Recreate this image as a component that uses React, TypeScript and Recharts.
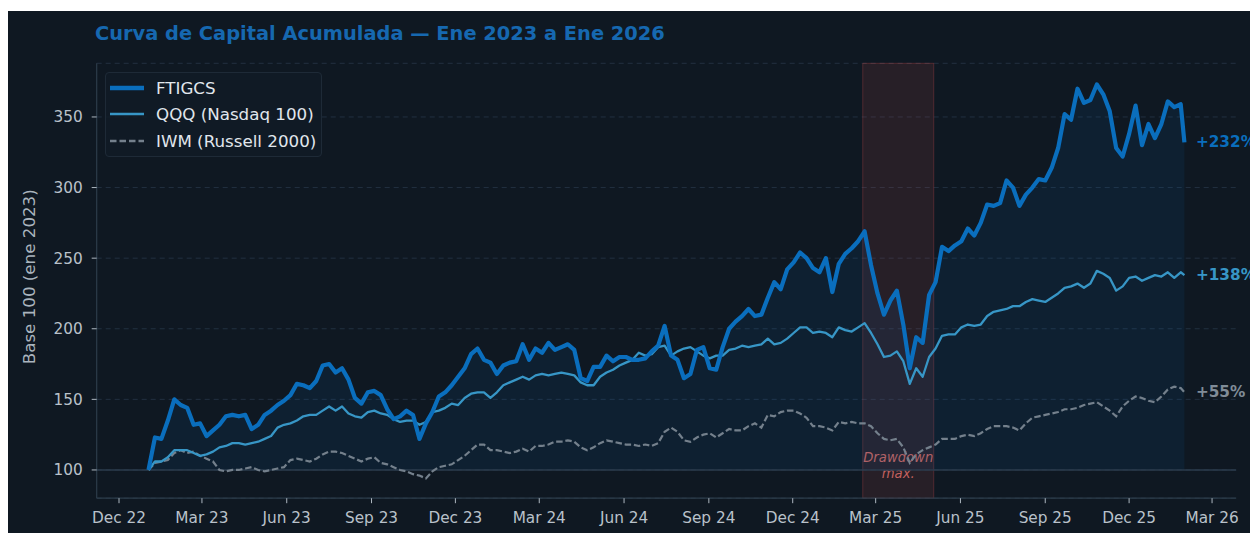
import React from 'react';
import {
  ComposedChart,
  Line,
  Area,
  XAxis,
  YAxis,
  CartesianGrid,
  ReferenceArea,
  ReferenceLine,
  ReferenceDot,
} from 'recharts';

// ---------- data ----------
const DAY = 86400000;
const firstWeek = '2023-01-02';
const weeklyCount = 161;
const lastDate = '2026-01-30';

const dates: number[] = [];
for (let i = 0; i < weeklyCount; i++) dates.push(Date.parse(firstWeek) + i * 7 * DAY);
dates.push(Date.parse(lastDate));

const ftigcs: number[] = [
  100, 123, 122, 135, 150, 146, 144, 132, 133, 124,
  128, 132, 138, 139, 138, 139, 129, 132, 139, 142,
  146, 149, 153, 161, 160, 158, 163, 174, 175, 169,
  172, 164, 151, 147, 155, 156, 153, 143, 136, 138,
  142, 139, 122, 133, 141, 152, 155, 160, 166,
  172, 182, 186, 178, 176, 168, 174, 176, 177, 189, 178,
  186, 183, 190, 185, 187, 189, 185, 165, 163, 173,
  173, 181, 177, 180, 180, 178, 178, 179, 184, 188,
  202, 181, 178, 165, 168, 185, 187, 172, 171, 187,
  200, 205, 209, 214, 209, 210, 222,
  233, 228, 242, 247, 254, 250, 243, 240, 250, 226,
  246, 253, 257, 262, 269, 245, 225, 210, 220, 227,
  203, 172, 194, 190, 224, 233, 258, 255, 259, 262, 271, 266, 275,
  288, 287, 289, 305, 300, 287, 295, 300, 306, 305, 314, 328,
  352, 348, 370, 360, 362, 373, 366, 354, 328, 322,
  338, 358, 330, 345, 335, 345, 361, 357, 359, 332,
];

const qqq: number[] = [
  100, 106, 106, 109, 114, 114, 114, 112, 110, 111,
  113, 116, 117, 119, 119, 118, 119, 120, 122, 124,
  130, 132, 133, 135, 138, 139, 139, 142, 145, 142,
  145, 140, 138, 137, 141, 142, 140, 139, 136, 134,
  135, 135, 132, 134, 141, 142, 144, 147, 146,
  151, 154, 155, 155, 151, 155, 160, 162, 164, 166, 164,
  167, 168, 167, 168, 169, 168, 167, 162, 160, 160,
  166, 169, 171, 174, 176, 178, 183, 181, 182, 187,
  188, 181, 184, 186, 187, 184, 181, 179, 181, 181,
  185, 186, 188, 187, 188, 189, 193,
  189, 190, 193, 197, 201, 201, 197, 198, 197, 194,
  201, 199, 198, 201, 204, 197, 189, 180, 181, 184,
  177, 161, 172, 166, 180, 186, 195, 196, 196, 201, 203, 202, 203,
  209, 212, 213, 214, 216, 216, 219, 221, 220, 219, 222, 225,
  229, 230, 232, 229, 232, 241, 239, 236, 227, 230,
  236, 237, 234, 236, 238, 237, 240, 236, 240, 238,
];

const iwm: number[] = [
  100, 105, 106, 107, 112, 114, 112, 113, 110, 108,
  106, 100, 99, 100, 100, 101, 102, 100, 99, 100,
  101, 102, 107, 108, 107, 106, 108, 111, 113, 113,
  112, 110, 108, 106, 108, 109, 105, 104, 102, 100,
  99, 97, 96, 94, 99, 102, 103, 104, 107,
  110, 114, 118, 118, 114, 114, 113, 112, 113, 115, 113,
  117, 117, 118, 120, 120, 121, 120, 116, 114, 116,
  119, 121, 120, 119, 118, 118, 117, 118, 117, 119,
  127, 130, 127, 121, 120, 123, 125, 126, 123, 126,
  129, 128, 128, 131, 133, 130, 139,
  138, 141, 142, 142, 140, 137, 131, 131, 130, 128,
  134, 133, 134, 133, 133, 131, 126, 122, 121, 122,
  116, 105, 111, 114, 116, 118, 122, 122, 122, 124, 125, 124, 126,
  129, 131, 131, 131, 130, 128, 133, 137, 138, 139, 140, 141,
  143, 143, 144, 146, 147, 148, 145, 142, 138, 145,
  149, 152, 151, 149, 148, 152, 157, 159, 158, 155,
];

const tickDates: string[] = [
  '2022-12-01', '2023-03-01', '2023-06-01', '2023-09-01', '2023-12-01',
  '2024-03-01', '2024-06-01', '2024-09-01', '2024-12-01', '2025-03-01',
  '2025-06-01', '2025-09-01', '2025-12-01', '2026-03-01',
];
const tickLabels: string[] = [
  'Dec 22', 'Mar 23', 'Jun 23', 'Sep 23', 'Dec 23', 'Mar 24', 'Jun 24',
  'Sep 24', 'Dec 24', 'Mar 25', 'Jun 25', 'Sep 25', 'Dec 25', 'Mar 26',
];
const yTicks: number[] = [100, 150, 200, 250, 300, 350];
const drawdownStart = '2025-02-15';
const drawdownEnd = '2025-05-03';

const seriesNames = ['FTIGCS', 'QQQ (Nasdaq 100)', 'IWM (Russell 2000)'];

// ---------- derived ----------
const rows = dates.map((t, i) => ({ t, ft: ftigcs[i], qqq: qqq[i], iwm: iwm[i] }));
const tickTimes = tickDates.map((d) => Date.parse(d));
const span = dates[dates.length - 1] - dates[0];
const xDomain = [dates[0] - 0.05 * span, dates[dates.length - 1] + 0.05 * span];
const lastT = dates[dates.length - 1];
const lastFt = ftigcs[ftigcs.length - 1];
const lastQqq = qqq[qqq.length - 1];
const lastIwm = iwm[iwm.length - 1];

// ---------- styles ----------
const FONT = '"DejaVu Sans", Verdana, sans-serif';
const BG = '#0f1822';
const C_FT = '#0a6ebd';
const C_QQQ = '#3796c6';
const C_IWM = '#74808c';
const C_IWM_LABEL = '#808c98';
const SPINE = '#2d3c4b';
const GRID = '#223040';
const TICK_TXT = '#b9c1ca';

const pct = (v: number) => `+${Math.round(v - 100)}%`;

const endLabel = (text: string, color: string) => (props: any) => {
  const vb = props.viewBox || {};
  const x = (vb.x ?? 0) + (vb.width ?? 0) / 2 + 11.5;
  const y = (vb.y ?? 0) + (vb.height ?? 0) / 2;
  return (
    <text x={x} y={y} dominantBaseline="central" fill={color} fontSize={15.3} fontWeight="bold" fontFamily={FONT}>
      {text}
    </text>
  );
};

const drawdownLabel = (props: any) => {
  const vb = props.viewBox || {};
  const cx = vb.x + vb.width / 2;
  const bottom = vb.y + vb.height;
  return (
    <g>
      <text x={cx} y={bottom - 41} textAnchor="middle" dominantBaseline="central" fill="#c2615f" fontSize={13.2} fontStyle="italic" fontFamily={FONT}>
        Drawdown
      </text>
      <text x={cx} y={bottom - 24.5} textAnchor="middle" dominantBaseline="central" fill="#c2615f" fontSize={13.2} fontStyle="italic" fontFamily={FONT}>
        max.
      </text>
    </g>
  );
};

const yAxisLabel = (props: any) => {
  const vb = props.viewBox || {};
  const cx = vb.x + 13;
  const cy = vb.y + vb.height / 2 - 4;
  return (
    <text x={cx} y={cy} transform={`rotate(-90 ${cx} ${cy})`} textAnchor="middle" dominantBaseline="central" fill="#aab4be" fontSize={16.7} fontFamily={FONT}>
      Base 100 (ene 2023)
    </text>
  );
};

const legendItems = [
  { name: seriesNames[0], color: C_FT, width: 4.5, dash: undefined as string | undefined },
  { name: seriesNames[1], color: C_QQQ, width: 2.4, dash: undefined as string | undefined },
  { name: seriesNames[2], color: C_IWM, width: 2.4, dash: '6.5 3' },
];

export default function App() {
  return (
    <div style={{ width: 1250, height: 522, marginTop: 3, background: BG, position: 'relative', fontFamily: FONT, overflow: 'hidden' }}>
      <style>{'body{overflow:hidden}'}</style>
      <div
        style={{
          position: 'absolute',
          left: 87,
          top: 13,
          color: '#1668b0',
          fontSize: 19.4,
          fontWeight: 'bold',
          lineHeight: 1,
          whiteSpace: 'nowrap',
          fontFamily: FONT,
        }}
      >
        Curva de Capital Acumulada — Ene 2023 a Ene 2026
      </div>
      <ComposedChart
        width={1250}
        height={522}
        data={rows}
        margin={{ top: 52.3, right: 21.8, left: 8, bottom: 4.8 }}
      >
        <CartesianGrid horizontal vertical={false} stroke={GRID} strokeDasharray="5 4" strokeWidth={1} />
        <XAxis
          dataKey="t"
          type="number"
          domain={xDomain}
          ticks={tickTimes}
          interval={0}
          tickFormatter={(v: number) => tickLabels[tickTimes.indexOf(v)] ?? ''}
          height={30}
          tickSize={5}
          tickMargin={9}
          axisLine={{ stroke: SPINE, strokeWidth: 1.2 }}
          tickLine={{ stroke: '#aeb7c0', strokeWidth: 1 }}
          tick={{ fill: TICK_TXT, fontSize: 15.3, fontFamily: FONT }}
          allowDataOverflow
        />
        <YAxis
          type="number"
          domain={[80, 388]}
          ticks={yTicks}
          interval={0}
          width={80.7}
          tickSize={5}
          tickMargin={9}
          axisLine={{ stroke: SPINE, strokeWidth: 1.2 }}
          tickLine={{ stroke: '#aeb7c0', strokeWidth: 1 }}
          tick={{ fill: TICK_TXT, fontSize: 15.3, fontFamily: FONT }}
          allowDataOverflow
          label={yAxisLabel}
        />
        <ReferenceArea
          x1={Date.parse(drawdownStart)}
          x2={Date.parse(drawdownEnd)}
          fill="#d9534f"
          fillOpacity={0.12}
          stroke="#d9534f"
          strokeOpacity={0.28}
          strokeWidth={1}
          label={drawdownLabel}
        />
        <Area
          type="linear"
          dataKey="ft"
          baseValue={100}
          fill={C_FT}
          fillOpacity={0.1}
          stroke="none"
          isAnimationActive={false}
          dot={false}
          activeDot={false}
        />
        <ReferenceLine y={100} stroke="#2b3b4c" strokeWidth={1.5} />
        <Line type="linear" dataKey="iwm" name={seriesNames[2]} stroke={C_IWM} strokeWidth={2.2} strokeDasharray="6.5 2.8" dot={false} activeDot={false} isAnimationActive={false} />
        <Line type="linear" dataKey="qqq" name={seriesNames[1]} stroke={C_QQQ} strokeWidth={2.3} dot={false} activeDot={false} isAnimationActive={false} strokeLinejoin="round" />
        <Line type="linear" dataKey="ft" name={seriesNames[0]} stroke={C_FT} strokeWidth={4.2} dot={false} activeDot={false} isAnimationActive={false} strokeLinejoin="round" />
        <ReferenceDot x={lastT} y={lastFt} r={1} fill="none" stroke="none" label={endLabel(pct(lastFt), C_FT)} />
        <ReferenceDot x={lastT} y={lastQqq} r={1} fill="none" stroke="none" label={endLabel(pct(lastQqq), C_QQQ)} />
        <ReferenceDot x={lastT} y={lastIwm} r={1} fill="none" stroke="none" label={endLabel(pct(lastIwm), C_IWM_LABEL)} />
      </ComposedChart>
      <div
        style={{
          position: 'absolute',
          left: 97,
          top: 61,
          width: 217,
          height: 85,
          boxSizing: 'border-box',
          border: '1px solid #1e2a37',
          borderRadius: 4,
          background: 'rgba(17,27,38,0.85)',
        }}
      >
        {legendItems.map((it, i) => (
          <div
            key={it.name}
            style={{
              position: 'absolute',
              left: 3,
              top: 14.7 + 26.6 * i - 13,
              height: 26,
              display: 'flex',
              alignItems: 'center',
              whiteSpace: 'nowrap',
            }}
          >
            <svg width={36} height={8} style={{ display: 'block' }}>
              <line x1={1} y1={4} x2={35} y2={4} stroke={it.color} strokeWidth={it.width} strokeDasharray={it.dash} />
            </svg>
            <span style={{ marginLeft: 11, color: '#e1e7ed', fontSize: 16.7, lineHeight: '26px', fontFamily: FONT }}>{it.name}</span>
          </div>
        ))}
      </div>
    </div>
  );
}
